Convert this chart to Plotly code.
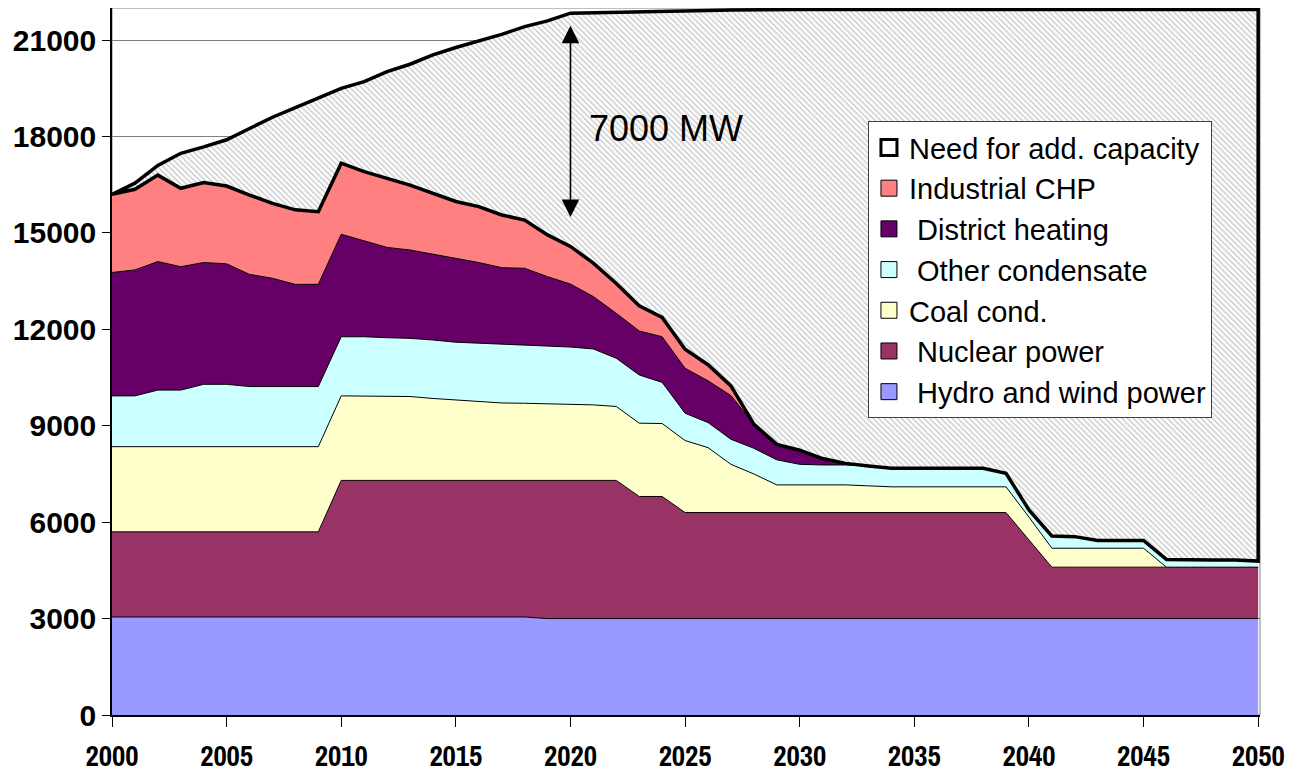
import numpy as np
import plotly.graph_objects as go

# Years on the x axis
years = list(range(2000, 2051))

# Capacity per source in MW (stacked bottom to top)
hydro_wind = [3050, 3050, 3050, 3050, 3050, 3050, 3050, 3050, 3050, 3050,
              3050, 3050, 3050, 3050, 3050, 3050, 3050, 3050, 3050, 3000,
              3000, 3000, 3000, 3000, 3000, 3000, 3000, 3000, 3000, 3000,
              3000, 3000, 3000, 3000, 3000, 3000, 3000, 3000, 3000, 3000,
              3000, 3000, 3000, 3000, 3000, 3000, 3000, 3000, 3000, 3000, 3000]
nuclear = [2650, 2650, 2650, 2650, 2650, 2650, 2650, 2650, 2650, 2650,
           4250, 4250, 4250, 4250, 4250, 4250, 4250, 4250, 4250, 4300,
           4300, 4300, 4300, 3800, 3800, 3300, 3300, 3300, 3300, 3300,
           3300, 3300, 3300, 3300, 3300, 3300, 3300, 3300, 3300, 3300,
           2450, 1600, 1600, 1600, 1600, 1600, 1600, 1600, 1600, 1600, 1600]
coal_cond = [2650, 2650, 2650, 2650, 2650, 2650, 2650, 2650, 2650, 2650,
             2630, 2630, 2630, 2610, 2550, 2500, 2450, 2410, 2400, 2390,
             2370, 2350, 2300, 2280, 2270, 2240, 2020, 1500, 1200, 860,
             860, 860, 860, 830, 800, 800, 800, 800, 800, 800,
             710, 590, 590, 590, 590, 590, 0, 0, 0, 0, 0]
other_cond = [1580, 1580, 1760, 1760, 1940, 1940, 1870, 1870, 1870, 1870,
              1840, 1840, 1810, 1810, 1820, 1800, 1820, 1830, 1820, 1800,
              1780, 1740, 1500, 1500, 1280, 850, 780, 780, 800, 780,
              640, 620, 620, 620, 580, 580, 580, 580, 580, 420,
              220, 380, 360, 240, 240, 240, 240, 220, 220, 220, 190]
district_heating = [3840, 3920, 4000, 3840, 3790, 3750, 3490, 3370, 3180, 3180,
                    3190, 2980, 2810, 2750, 2670, 2610, 2510, 2380, 2380, 2150,
                    1960, 1630, 1400, 1370, 1420, 1400, 1300, 1360, 750, 480,
                    440, 200, 50, 0, 0, 0, 0, 0, 0, 0,
                    0, 0, 0, 0, 0, 0, 0, 0, 0, 0, 0]
industrial_chp = [2430, 2510, 2690, 2440, 2490, 2420, 2470, 2330, 2320, 2260,
                  2210, 2160, 2150, 2020, 1890, 1770, 1740, 1640, 1500, 1300,
                  1170, 1040, 930, 780, 600, 590, 500, 300, 0, 0,
                  0, 0, 0, 0, 0, 0, 0, 0, 0, 0,
                  0, 0, 0, 0, 0, 0, 0, 0, 0, 0, 0]
need_add = [0, 190, 300, 1090, 1110, 1440, 2070, 2680, 3180, 3540,
            2330, 2800, 3320, 3760, 4310, 4790, 5160, 5620, 6020, 6660,
            7260, 7790, 8440, 9150, 9520, 10520, 11020, 11700, 12900, 13530,
            13710, 13970, 14120, 14200, 14270, 14270, 14270, 14270, 14270, 14430,
            15570, 16380, 16400, 16520, 16520, 16520, 17110, 17130, 17130, 17130, 17160]

series = [
    ("Hydro and wind power", hydro_wind, "#9999FF"),
    ("Nuclear power", nuclear, "#993366"),
    ("Coal cond.", coal_cond, "#FFFFCC"),
    ("Other condensate", other_cond, "#CCFFFF"),
    ("District heating", district_heating, "#660066"),
    ("Industrial CHP", industrial_chp, "#FF8080"),
]

text_font = "Liberation Sans, Arial, sans-serif"
ytick_font = dict(family=text_font, size=30, color="black", weight="bold")
xtick_font = dict(family="Archivo Narrow, Roboto Condensed, sans-serif", size=29,
                  color="black", weight="bold")

fig = go.Figure()

# Supply stack
for name, vals, col in series:
    fig.add_trace(go.Scatter(x=years, y=vals, stackgroup="supply", mode="lines",
                             line=dict(color="black", width=1), fillcolor=col,
                             name=name, showlegend=False, hoverinfo="skip"))

# Need for additional capacity: outlined hatched band on top of supply
supply_top = np.sum([s[1] for s in series], axis=0)
demand = supply_top + np.array(need_add)
poly_x = years + years[::-1]
poly_y = list(demand) + list(supply_top[::-1])
fig.add_trace(go.Scatter(x=poly_x, y=poly_y, mode="lines", fill="toself",
                         line=dict(color="black", width=3.5),
                         fillcolor="white",
                         fillpattern=dict(shape="\\", fgcolor="#a0a0a0", bgcolor="white",
                                          size=4, solidity=0.4),
                         name="Need for add. capacity", showlegend=False, hoverinfo="skip"))

# Legend entries (square swatches), top to bottom
legend_items = [("Need for add. capacity", "white", 3)] + \
    [(" " + n if n not in ("Coal cond.", "Industrial CHP") else n, c, 1) for n, _, c in series[::-1]]
for i, (name, col, lw) in enumerate(legend_items):
    fig.add_trace(go.Scatter(x=[None], y=[None], mode="markers", name=name,
                             legendgroup="g%d" % i,
                             marker=dict(symbol="square", size=16, color=col,
                                         line=dict(color="black", width=lw))))

# Gap arrow and label
fig.add_annotation(x=2020, y=21450, ax=2020, ay=15450, xref="x", yref="y",
                   axref="x", ayref="y", text="", showarrow=True,
                   arrowhead=2, arrowside="end+start", arrowsize=2.2,
                   arrowwidth=1.6, arrowcolor="black")
fig.add_annotation(x=2020.7, y=18250, xref="x", yref="y", text="7000 MW",
                   showarrow=False, xanchor="left", yanchor="middle",
                   font=dict(family=text_font, size=36, color="black"))

# Plot frame (only visible above the areas)
fig.add_shape(type="rect", xref="paper", yref="paper", x0=0, x1=1, y0=0, y1=1,
              line=dict(color="#808080", width=1), layer="below")

fig.update_xaxes(range=[2000, 2050.08], tickmode="array", tickvals=list(range(2000, 2051, 5)),
                 ticks="outside", ticklen=10, tickcolor="black", tickwidth=1,
                 showline=True, linecolor="black", linewidth=1.5, showgrid=False,
                 zeroline=False, tickfont=xtick_font, ticklabelstandoff=4,
                 automargin=False)
fig.update_yaxes(range=[0, 22000], tickmode="array", tickvals=list(range(0, 21001, 3000)),
                 tickformat="d",
                 ticks="outside", ticklen=8, tickcolor="black", tickwidth=1,
                 showline=True, linecolor="black", linewidth=1.5,
                 showgrid=True, gridcolor="#808080", gridwidth=1,
                 zeroline=False, tickfont=ytick_font, ticklabelstandoff=0,
                 automargin=False)

# page body adds an 8px offset, so the figure is sized 8px smaller
fig.update_layout(
    width=1301, height=770,
    margin=dict(l=104, r=49, t=0, b=63),
    plot_bgcolor="white", paper_bgcolor="white",
    legend=dict(x=0.6585, y=0.840, xanchor="left", yanchor="top",
                bgcolor="white", bordercolor="#404040", borderwidth=1,
                font=dict(family=text_font, size=29, color="black"),
                traceorder="grouped", tracegroupgap=0, itemwidth=30),
    showlegend=True,
)

fig.write_html("out.html")
